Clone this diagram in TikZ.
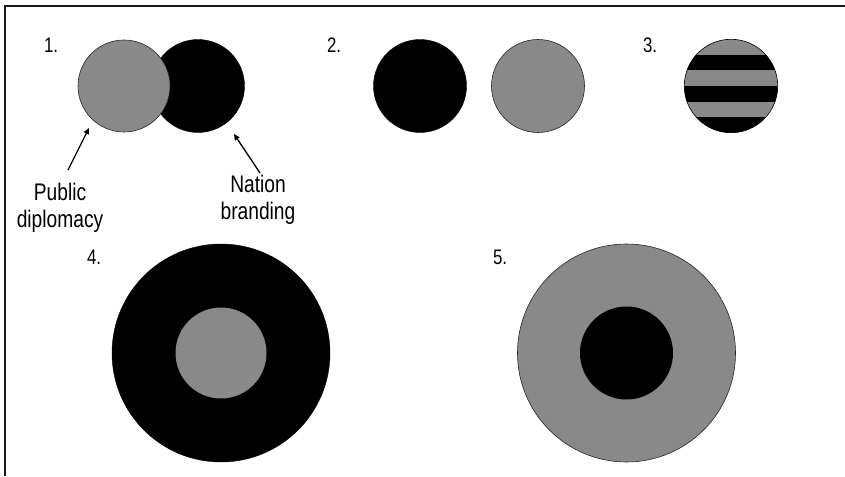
\documentclass[tikz,border=0pt]{standalone}
\usepackage{fontspec}
\newfontfamily\narrowsans[FakeStretch=0.8]{Liberation Sans}
\usepackage{xcolor}
\usetikzlibrary{arrows.meta}
\definecolor{midgray}{RGB}{137,137,137}

\begin{document}
\begin{tikzpicture}[
    x=1pt, y=-1pt,
    every node/.style={inner sep=0pt, outer sep=0pt},
    num/.style={anchor=base west, font=\narrowsans\fontsize{21}{25}\selectfont},
    lbl/.style={align=center, anchor=north, font=\narrowsans\fontsize{24}{27}\selectfont},
    blackdisc/.style={circle, fill=black, draw=black, line width=0.4pt},
    graydisc/.style={circle, fill=midgray, draw=black!85, line width=0.6pt},
    arr/.style={-{Triangle[length=6pt,width=5.5pt]}, line width=1.3pt}
]
\useasboundingbox (0,0) rectangle (845,476);
\draw[line width=1.2pt, black!90] (5,476) -- (5,6) -- (845,6);

% 1. overlapping
\node[num] (num1) at (44,53) {1.};
\node[blackdisc, minimum size=93pt] (nb) at (198,86) {};
\node[graydisc, minimum size=92pt] (pd) at (124,86) {};
\node[lbl] (pubdip) at (60,183) {Public\\diplomacy};
\node[lbl] (natbr) at (258,175) {Nation\\branding};
\coordinate (pdtip) at (89,128);
\coordinate (nbtip) at (234,134);
\draw[arr] ([shift={(8pt,13pt)}]pubdip.north) -- (pdtip);
\draw[arr] ([shift={(2pt,2pt)}]natbr.north) -- (nbtip);

% 2. separate
\node[num] (num2) at (327,53) {2.};
\node[blackdisc, minimum size=93pt] (sepb) at (420,86) {};
\node[graydisc, minimum size=93pt] (sepg) at (538,86) {};

% 3. striped
\node[num] (num3) at (643,53) {3.};
\begin{scope}
  \clip (731,86) circle (46.7);
  \fill[midgray] (680,36) rectangle (780,136);
  \foreach \k in {1,3,5}
    \fill[black] (680,39.3+15.57*\k) rectangle (780,39.3+15.57*\k+15.6);
\end{scope}
\draw[line width=0.6pt] (731,86) circle (46.7);

% 4. black around gray
\node[num] (num4) at (87,264) {4.};
\node[blackdisc, minimum size=218pt] (outb) at (221,353) {};
\node[circle, fill=midgray, minimum size=91pt] (ing) at (221,353) {};

% 5. gray around black
\node[num] (num5) at (493,264) {5.};
\node[graydisc, minimum size=218pt] (outg) at (626.5,353) {};
\node[circle, fill=black, minimum size=93pt] (inb) at (626.5,353) {};
\end{tikzpicture}
\end{document}
